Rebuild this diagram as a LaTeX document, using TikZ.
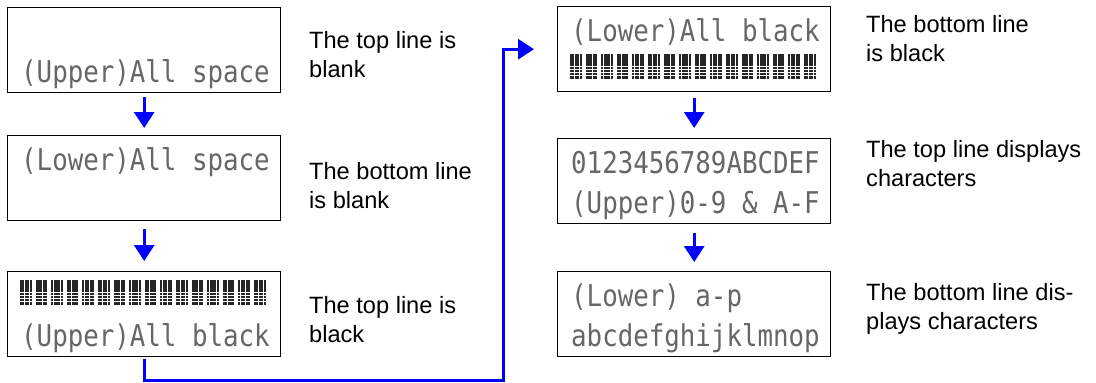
\documentclass[tikz,border=0pt]{standalone}
\usepackage{fontspec}
\setmainfont{Liberation Sans}
\newfontfamily\lcdfont[FakeStretch=0.86]{DejaVu Sans Mono}
\usetikzlibrary{arrows.meta}
\newcommand\lcdblockrow[2]{% #1 node name, #2 top offset
  \begin{scope}[shift={(#1.north west)}]
    \foreach \i in {0,...,15}{
      \foreach \c in {0,...,4}{
        \foreach \r in {0,...,7}{
          \fill[black!85] (13+\i*15.6+\c*2.4, #2+\r*3.15) rectangle ++(1.9,2.5);
        }
      }
    }
  \end{scope}}
\begin{document}
\begin{tikzpicture}[x=1pt,y=-1pt,
  lcdbox/.style={draw=black, line width=1.4pt, fill=white, minimum width=273pt, minimum height=85pt, inner sep=0pt, anchor=north west},
  lcdline/.style={font=\lcdfont\fontsize{30}{30}\selectfont, text=black!60, inner sep=0pt, anchor=base west},
  desc/.style={font=\fontsize{23.6}{28.3}\selectfont, align=left, inner sep=0pt, anchor=base west},
  flow/.style={draw=blue, line width=3pt, -{Triangle[width=20pt,length=16pt]}},
]
\useasboundingbox (0,0) rectangle (1096,383);

% LCD boxes
\node[lcdbox] (b1) at (7,7) {};
\node[lcdbox] (b2) at (7,135) {};
\node[lcdbox] (b3) at (7,271) {};
\node[lcdbox] (b4) at (557,6) {};
\node[lcdbox] (b5) at (557,138) {};
\node[lcdbox] (b6) at (557,271) {};

% LCD lines
\node[lcdline] (b1l2) at ([shift={(14,75)}]b1.north west) {(Upper)All space};
\node[lcdline] (b2l1) at ([shift={(14,35)}]b2.north west) {(Lower)All space};
\lcdblockrow{b3}{9}
\node[lcdline] (b3l2) at ([shift={(14,75)}]b3.north west) {(Upper)All black};
\node[lcdline] (b4l1) at ([shift={(14,35)}]b4.north west) {(Lower)All black};
\lcdblockrow{b4}{48}
\node[lcdline] (b5l1) at ([shift={(14,35)}]b5.north west) {0123456789ABCDEF};
\node[lcdline] (b5l2) at ([shift={(14,75)}]b5.north west) {(Upper)0-9 \& A-F};
\node[lcdline] (b6l1) at ([shift={(14,35)}]b6.north west) {(Lower) a-p};
\node[lcdline] (b6l2) at ([shift={(14,75)}]b6.north west) {abcdefghijklmnop};

% descriptions (base anchor = baseline of the last line)
\node[desc] (d1) at (309,77) {The top line is\\blank};
\node[desc] (d2) at (309,208) {The bottom line\\is blank};
\node[desc] (d3) at (309,342) {The top line is\\black};
\node[desc] (d4) at (866,61) {The bottom line\\is black};
\node[desc] (d5) at (866,186) {The top line displays\\characters};
\node[desc] (d6) at (866,329) {The bottom line dis-\\plays characters};

% arrows
\draw[flow, shorten <=4pt, shorten >=7pt] (b1.south) -- (b2.north);
\draw[flow, shorten <=8pt, shorten >=10pt] (b2.south) -- (b3.north);
\draw[flow, shorten <=6pt, shorten >=10pt] (b4.south) -- (b5.north);
\draw[flow, shorten <=9pt, shorten >=9pt] (b5.south) -- (b6.north);
\coordinate (c1) at (503,380);
\draw[flow, shorten <=2pt, shorten >=23pt] (b3.south) |- (c1) |- (b4.west);
\end{tikzpicture}
\end{document}
